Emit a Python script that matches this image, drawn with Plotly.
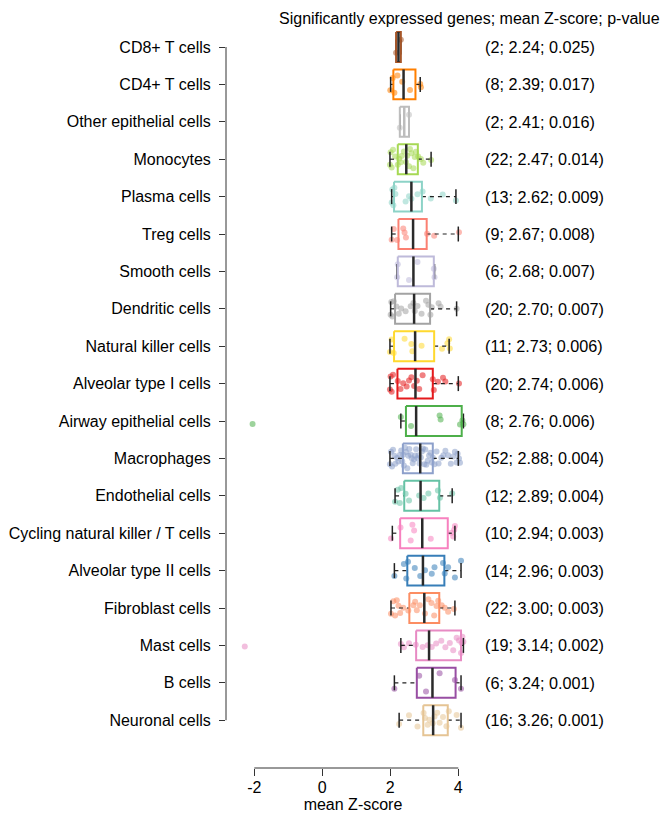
import plotly.graph_objects as go

# ---------------- data ----------------
categories = [
    "CD8+ T cells", "CD4+ T cells", "Other epithelial cells", "Monocytes",
    "Plasma cells", "Treg cells", "Smooth cells", "Dendritic cells",
    "Natural killer cells", "Alveolar type I cells", "Airway epithelial cells",
    "Macrophages", "Endothelial cells", "Cycling natural killer / T cells",
    "Alveolar type II cells", "Fibroblast cells", "Mast cells", "B cells",
    "Neuronal cells",
]
n_genes = [2, 8, 2, 22, 13, 9, 6, 20, 11, 20, 8, 52, 12, 10, 14, 22, 19, 6, 16]
mean_z = [2.24, 2.39, 2.41, 2.47, 2.62, 2.67, 2.68, 2.70, 2.73, 2.74, 2.76,
          2.88, 2.89, 2.94, 2.96, 3.00, 3.14, 3.24, 3.26]
p_values = [0.025, 0.017, 0.016, 0.014, 0.009, 0.008, 0.007, 0.007, 0.006,
            0.006, 0.006, 0.004, 0.004, 0.003, 0.003, 0.003, 0.002, 0.001, 0.001]

q1 = [2.17, 2.09, 2.28, 2.22, 2.11, 2.24, 2.22, 2.14, 2.11, 2.21, 2.46,
      2.37, 2.41, 2.29, 2.50, 2.56, 2.76, 2.78, 2.97]
q3 = [2.31, 2.74, 2.55, 2.81, 2.93, 3.07, 3.28, 3.17, 3.29, 3.25, 4.10,
      3.25, 3.44, 3.69, 3.59, 3.44, 4.08, 3.92, 3.69]
whisker_lo = [2.17, 2.01, 2.28, 1.99, 2.04, 2.04, 2.20, 2.01, 1.99, 1.99, 2.31,
              1.99, 2.14, 2.06, 2.12, 2.02, 2.31, 2.12, 2.26]
whisker_hi = [2.31, 2.88, 2.55, 3.20, 3.93, 4.00, 3.30, 3.95, 3.73, 4.00, 4.15,
              4.00, 3.82, 3.90, 4.08, 3.90, 4.15, 4.08, 4.08]

gene_scores = [
    [2.17, 2.31],
    [2.00, 2.07, 2.12, 2.21, 2.35, 2.58, 2.88, 2.90],
    [2.28, 2.55],
    [1.99, 2.01, 2.04, 2.08, 2.14, 2.22, 2.26, 2.31, 2.33, 2.40, 2.46, 2.50,
     2.55, 2.58, 2.62, 2.68, 2.72, 2.75, 2.82, 2.90, 2.97, 3.20],
    [2.04, 2.06, 2.09, 2.12, 2.15, 2.45, 2.55, 2.62, 2.80, 2.95, 3.19, 3.54, 3.93],
    [2.04, 2.10, 2.20, 2.38, 2.42, 2.46, 3.08, 3.29, 4.02],
    [2.20, 2.22, 2.55, 2.80, 3.28, 3.30],
    [2.01, 2.03, 2.06, 2.10, 2.18, 2.25, 2.32, 2.45, 2.60, 2.68, 2.72, 2.80,
     2.92, 3.05, 3.12, 3.18, 3.22, 3.42, 3.48, 3.95],
    [1.99, 2.04, 2.10, 2.42, 2.62, 2.65, 2.92, 3.52, 3.68, 3.73, 3.75],
    [1.99, 2.01, 2.04, 2.08, 2.22, 2.30, 2.38, 2.48, 2.55, 2.62, 2.70, 2.78,
     2.85, 2.95, 3.25, 3.28, 3.40, 3.55, 3.62, 4.02],
    [-2.05, 2.31, 2.61, 3.45, 3.48, 4.05, 4.12, 4.15],
    [1.99, 2.02, 2.05, 2.08, 2.12, 2.15, 2.20, 2.24, 2.28, 2.32, 2.35, 2.38,
     2.40, 2.43, 2.46, 2.50, 2.53, 2.56, 2.60, 2.63, 2.66, 2.70, 2.73, 2.76,
     2.80, 2.83, 2.86, 2.90, 2.93, 2.96, 3.00, 3.03, 3.06, 3.10, 3.14, 3.18,
     3.22, 3.25, 3.30, 3.36, 3.42, 3.50, 3.56, 3.62, 3.70, 3.78, 3.85, 3.90,
     3.95, 3.98, 4.02, 4.05],
    [2.14, 2.22, 2.28, 2.32, 2.45, 2.55, 2.85, 2.98, 3.12, 3.40, 3.46, 3.82],
    [2.02, 2.30, 2.60, 2.65, 2.70, 3.19, 3.80, 3.85, 3.90, 3.88],
    [2.12, 2.40, 2.47, 2.52, 2.72, 2.88, 3.02, 3.22, 3.30, 3.55, 3.60, 3.70, 3.90, 4.08],
    [2.02, 2.09, 2.14, 2.19, 2.24, 2.29, 2.38, 2.53, 2.68, 2.73, 2.78, 2.87,
     3.02, 3.12, 3.21, 3.29, 3.36, 3.41, 3.51, 3.60, 3.70, 3.87],
    [-2.28, 2.31, 2.40, 2.55, 2.75, 2.95, 3.10, 3.22, 3.35, 3.50, 3.62, 3.75,
     3.85, 3.95, 4.02, 4.08, 4.10, 4.12, 4.15],
    [2.12, 2.85, 3.05, 3.45, 3.90, 4.08],
    [2.26, 2.55, 2.80, 2.98, 3.02, 3.10, 3.15, 3.25, 3.30, 3.38, 3.45, 3.55,
     3.65, 3.72, 3.95, 4.08],
]

x_ticks = [-2, 0, 2, 4]
header_text = "Significantly expressed genes; mean Z-score; p-value"
x_title = "mean Z-score"

# ---------------- styles ----------------
colors = ["#A65628", "#FF7F00", "#BDBDBD", "#A6D854", "#8DD3C7", "#FB8072",
          "#BEBADA", "#A3A3A3", "#FFD92F", "#E41A1C", "#4DAF4A", "#8DA0CB",
          "#66C2A5", "#F781BF", "#377EB8", "#FC8D62", "#E78AC3", "#984EA3",
          "#E5C494"]
FONT = "Liberation Sans, Arial, Helvetica, sans-serif"
BOX_HALF = 0.4
CAP_HALF = 0.2

pos = list(range(len(categories)))

fig = go.Figure()

# whiskers (dashed)
wx, wy = [], []
for i in pos:
    wx += [whisker_lo[i], q1[i], None, q3[i], whisker_hi[i], None]
    wy += [i, i, None, i, i, None]
fig.add_trace(go.Scatter(x=wx, y=wy, mode="lines",
                         line=dict(color="#222222", width=1.2, dash="4px,4px"),
                         hoverinfo="skip", showlegend=False))
# caps
cx, cy = [], []
for i in pos:
    cx += [whisker_lo[i], whisker_lo[i], None, whisker_hi[i], whisker_hi[i], None]
    cy += [i - CAP_HALF, i + CAP_HALF, None, i - CAP_HALF, i + CAP_HALF, None]
fig.add_trace(go.Scatter(x=cx, y=cy, mode="lines",
                         line=dict(color="#222222", width=1.5),
                         hoverinfo="skip", showlegend=False))
# boxes
for i in pos:
    fig.add_trace(go.Scatter(
        x=[q1[i], q3[i], q3[i], q1[i], q1[i]],
        y=[i - BOX_HALF, i - BOX_HALF, i + BOX_HALF, i + BOX_HALF, i - BOX_HALF],
        mode="lines", line=dict(color=colors[i], width=2),
        hoverinfo="skip", showlegend=False))
# mean lines
for i in pos:
    lc = colors[i] if categories[i] == "Other epithelial cells" else "#2a2a2a"
    fig.add_trace(go.Scatter(x=[mean_z[i], mean_z[i]],
                             y=[i - BOX_HALF, i + BOX_HALF], mode="lines",
                             line=dict(color=lc, width=2.5),
                             hoverinfo="skip", showlegend=False))
# jittered points
for i in pos:
    fig.add_trace(go.Box(
        x=gene_scores[i], y0=i, orientation="h", boxpoints="all",
        jitter=0.75, pointpos=0, width=0.8,
        line=dict(width=0, color="rgba(0,0,0,0)"),
        fillcolor="rgba(0,0,0,0)",
        marker=dict(color=colors[i], size=6, opacity=0.55),
        hoverinfo="skip", showlegend=False))

# right-hand texts
annotations = []
for i in pos:
    annotations.append(dict(
        x=1.012, xref="paper", y=i, yref="y", xanchor="left", yanchor="middle",
        text=f"({n_genes[i]}; {mean_z[i]:.2f}; {p_values[i]:.3f})",
        showarrow=False, font=dict(size=16.2, color="black", family=FONT)))
annotations.append(dict(
    x=0.957, xref="paper", y=1.0, yref="paper", xanchor="center",
    yanchor="top", text=header_text, showarrow=False,
    font=dict(size=16, color="black", family=FONT)))

shapes = [
    dict(type="line", xref="x", yref="paper", x0=x_ticks[0], x1=x_ticks[-1],
         y0=0, y1=0, line=dict(color="#333333", width=1)),
    dict(type="line", xref="paper", yref="y", x0=0, x1=0, y0=pos[0], y1=pos[-1],
         line=dict(color="#333333", width=1)),
]

fig.update_layout(
    width=663, height=811,
    margin=dict(l=218, r=191, t=0, b=51),
    plot_bgcolor="white", paper_bgcolor="white",
    font=dict(family=FONT, size=16, color="black"),
    annotations=annotations, shapes=shapes,
    boxmode="overlay",
    xaxis=dict(range=[-2.832, 4.638], tickvals=x_ticks,
               ticktext=[str(t) for t in x_ticks],
               ticks="outside", ticklen=7, tickcolor="#333333",
               showgrid=False, zeroline=False, showline=False,
               title=dict(text=x_title, standoff=2, font=dict(size=16)),
               automargin=False, tickfont=dict(size=16), ticklabelstandoff=-2),
    yaxis=dict(type="linear", range=[19.278, -1.043], tickvals=pos,
               ticktext=categories, ticks="outside", ticklen=6,
               tickcolor="#333333", showgrid=False, zeroline=False,
               showline=False, automargin=False, tickfont=dict(size=16),
               ticklabelstandoff=5),
)

fig.write_html("out.html")
